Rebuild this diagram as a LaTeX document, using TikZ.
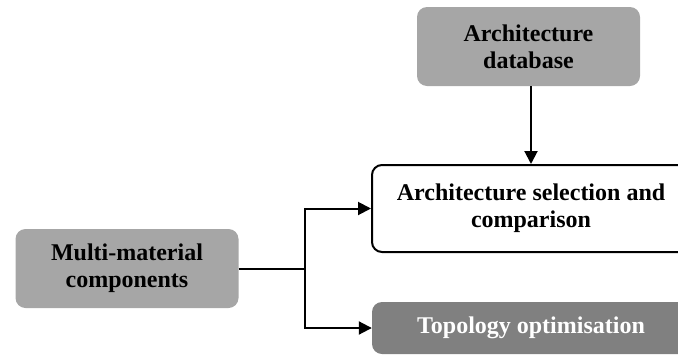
\documentclass[tikz,border=0pt]{standalone}
\usepackage{fontspec}
\setmainfont{Liberation Serif}
\usetikzlibrary{arrows.meta, positioning}
\tikzset{
  block/.style={rectangle,rounded corners=10pt,inner sep=0pt,align=center,font=\fontsize{24}{27}\selectfont\bfseries,text=black},
  source/.style={block,fill=black!35,minimum width=223pt,minimum height=79pt},
  stage/.style={block,draw=black,line width=2pt,fill=white,minimum width=318pt,minimum height=87pt},
  result/.style={block,fill=black!50,text=white,minimum width=318pt,minimum height=52pt},
  flow/.style={line width=2pt,-{Triangle[length=13pt,width=13pt]}},
}
\begin{document}
\begin{tikzpicture}[x=1pt,y=1pt]
	    \useasboundingbox (0,0) rectangle (678,-354);
	    \clip (0,0) rectangle (678,-354);
	    \node[source] (DB) at (528.5,-46.5) {Architecture\\database};
	    \node[stage] (SEL) at (531,-208.5) {Architecture selection and\\comparison};
	    \node[source] (MM) at (127,-268.5) {Multi-material\\components};
	    \node[result] (TOPO) at (531,-328) {Topology optimisation};
	    \coordinate (SPLIT) at (305,-268.5);
	    \draw[line width=2pt] (MM.east) -- (SPLIT);
	    \draw[flow] (SPLIT) |- (SEL.west);
	    \draw[flow] (SPLIT) |- (TOPO.west);
	    \draw[flow] (DB.south -| SEL.north) -- (SEL.north);
	\end{tikzpicture}
\end{document}
